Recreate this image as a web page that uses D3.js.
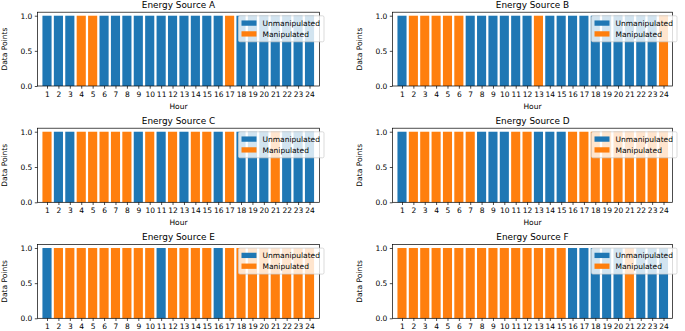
<!DOCTYPE html>
<html>
<head>
<meta charset="utf-8">
<script src="https://cdn.jsdelivr.net/npm/d3@7"></script>
<style>
  body { margin: 0; background: #fff; }
  text { font-family: "DejaVu Sans", sans-serif; fill: #000; }
</style>
</head>
<body>
<svg id="viz"></svg>
<script>
// hours on the x axis
var hours = [1,2,3,4,5,6,7,8,9,10,11,12,13,14,15,16,17,18,19,20,21,22,23,24]

// every hour has exactly one data point
var dataPoints = [1,1,1,1,1,1,1,1,1,1,1,1,1,1,1,1,1,1,1,1,1,1,1,1]

// 1 = manipulated, 0 = unmanipulated
var sourceA = [0,0,0,1,1,0,0,0,0,0,0,0,0,0,0,0,1,0,0,0,0,0,0,0]
var sourceB = [0,1,1,1,1,1,0,0,0,0,0,0,1,0,0,0,0,0,0,0,0,0,0,1]
var sourceC = [1,0,0,1,1,1,1,1,0,1,0,1,0,1,1,0,1,0,0,0,1,0,0,0]
var sourceD = [0,1,1,1,1,1,1,0,0,0,1,1,0,0,0,1,1,1,1,1,1,1,1,1]
var sourceE = [0,1,1,1,1,1,1,1,1,1,0,1,1,1,1,0,1,1,1,1,1,1,1,1]
var sourceF = [1,1,1,1,1,1,1,1,1,1,1,1,1,1,1,0,0,0,0,0,1,0,0,0]

var titles = ['Energy Source A','Energy Source B','Energy Source C','Energy Source D','Energy Source E','Energy Source F']
var sources = [sourceA, sourceB, sourceC, sourceD, sourceE, sourceF]
var legendLabels = ['Unmanipulated', 'Manipulated']
var yTicks = [0.0, 0.5, 1.0]

var blue = '#1f77b4'
var orange = '#ff7f0e'

var width = 685
var height = 331

var svg = d3.select('#viz')
	.attr('width', width)
	.attr('height', height)

// column / row geometry (pixels)
var cols = [
	{left: 37.5, right: 319.5, first: 47, last: 309.5},
	{left: 392.5, right: 672.5, first: 402, last: 663.5}
]
var rows = [
	{top: 12.2, bottom: 86},
	{top: 128.2, bottom: 202.3},
	{top: 244.5, bottom: 318.3}
]

var fs = 7.5
var tickLen = 2.7

function drawPanel(i) {
	let col = cols[i % 2]
	let row = rows[Math.floor(i / 2)]
	let flags = sources[i]

	let x = d3.scaleLinear().domain([1, 24]).range([col.first, col.last])
	let y = d3.scaleLinear().domain([0, 1.05]).range([row.bottom, row.top])
	let unit = x(2) - x(1)
	let bw = unit * 0.8

	let g = svg.append('g')

	// bars
	g.selectAll('rect.bar')
		.data(hours)
		.enter()
		.append('rect')
		.attr('class', 'bar')
		.attr('x', (d) => x(d) - bw / 2)
		.attr('width', bw)
		.attr('y', (d, k) => y(dataPoints[k]))
		.attr('height', (d, k) => y(0) - y(dataPoints[k]))
		.style('fill', (d, k) => flags[k] ? orange : blue)

	// frame
	g.append('rect')
		.attr('x', col.left)
		.attr('y', row.top)
		.attr('width', col.right - col.left)
		.attr('height', row.bottom - row.top)
		.style('fill', 'none')
		.style('stroke', '#000')
		.style('stroke-width', 0.7)

	// x axis
	let xAxis = d3.axisBottom(x).tickValues(hours).tickSize(tickLen).tickPadding(2.5)
	let xg = g.append('g').attr('transform', 'translate(0,' + row.bottom + ')').call(xAxis)
	xg.select('.domain').remove()
	xg.selectAll('line').style('stroke-width', 0.7)
	xg.selectAll('text').style('font-size', fs + 'px').style('font-family', '"DejaVu Sans", sans-serif')

	// y axis
	let yAxis = d3.axisLeft(y).tickValues(yTicks).tickFormat(d3.format('.1f')).tickSize(tickLen).tickPadding(2.5)
	let yg = g.append('g').attr('transform', 'translate(' + col.left + ',0)').call(yAxis)
	yg.select('.domain').remove()
	yg.selectAll('line').style('stroke-width', 0.7)
	yg.selectAll('text').style('font-size', fs + 'px').style('font-family', '"DejaVu Sans", sans-serif')

	// title
	g.append('text')
		.attr('x', (col.left + col.right) / 2)
		.attr('y', row.top - 4.6)
		.attr('text-anchor', 'middle')
		.style('font-size', '8.9px')
		.text(titles[i])

	// x label (the bottom row's label falls below the picture)
	if (row.bottom + 23 < height) {
		g.append('text')
			.attr('x', (col.left + col.right) / 2)
			.attr('y', row.bottom + 23)
			.attr('text-anchor', 'middle')
			.style('font-size', fs + 'px')
			.text('Hour')
	}

	let ly = (row.top + row.bottom) / 2
	let lx = col.left - 30.5
	g.append('text')
		.attr('transform', 'translate(' + lx + ',' + ly + ') rotate(-90)')
		.attr('text-anchor', 'middle')
		.style('font-size', fs + 'px')
		.text('Data Points')

	// legend (upper right, hanging a little past the frame)
	let lw = 85.5
	let lh = 26
	let lgx = col.right + 4.5 - lw
	let lgy = row.top + 3.6
	let lg = g.append('g').attr('transform', 'translate(' + lgx + ',' + lgy + ')')
	lg.append('rect')
		.attr('width', lw)
		.attr('height', lh)
		.attr('rx', 1.5)
		.style('fill', '#fff')
		.style('fill-opacity', 0.8)
		.style('stroke', '#cccccc')
		.style('stroke-width', 0.7)

	let legendColors = [blue, orange]
	for (let k = 0; k < legendLabels.length; k++) {
		let cy = 7.3 + k * 10.8
		lg.append('rect')
			.attr('x', 3)
			.attr('y', cy - 2.65)
			.attr('width', 15)
			.attr('height', 5.3)
			.style('fill', legendColors[k])
		lg.append('text')
			.attr('x', 24)
			.attr('y', cy + 2.7)
			.style('font-size', fs + 'px')
			.text(legendLabels[k])
	}
}

for (let i = 0; i < sources.length; i++) {
	drawPanel(i)
}
</script>
</body>
</html>
